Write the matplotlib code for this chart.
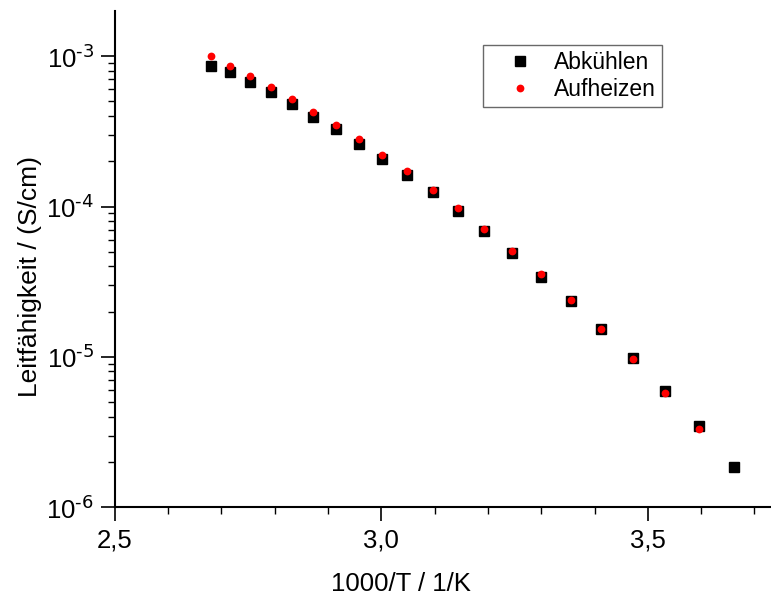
import math
import matplotlib
matplotlib.use('Agg')
import matplotlib.pyplot as plt
from matplotlib.ticker import MultipleLocator, LogLocator, FuncFormatter, NullFormatter

# Daten
inv_T = [2.680, 2.716, 2.754, 2.793, 2.832, 2.872, 2.915, 2.958, 3.002, 3.049,
         3.096, 3.144, 3.193, 3.246, 3.299, 3.355, 3.412, 3.472, 3.533, 3.596, 3.662]
sigma_cool = [8.59e-4, 7.80e-4, 6.76e-4, 5.74e-4, 4.80e-4, 3.95e-4, 3.26e-4, 2.61e-4,
              2.06e-4, 1.62e-4, 1.24e-4, 9.33e-5, 6.84e-5, 4.89e-5, 3.41e-5, 2.34e-5,
              1.54e-5, 9.79e-6, 5.93e-6, 3.49e-6, 1.86e-6]
sigma_heat = [1.006e-3, 8.59e-4, 7.38e-4, 6.21e-4, 5.19e-4, 4.27e-4, 3.48e-4, 2.80e-4,
              2.20e-4, 1.71e-4, 1.29e-4, 9.73e-5, 7.12e-5, 5.09e-5, 3.57e-5, 2.40e-5,
              1.54e-5, 9.64e-6, 5.78e-6, 3.32e-6]

plt.rcParams['font.family'] = ['Liberation Sans', 'DejaVu Sans']
plt.rcParams['mathtext.default'] = 'regular'

fig = plt.figure(figsize=(7.71, 5.95), dpi=100)
W, H = 771, 595
x0, y0, y1 = 114.8, 507.3, 11
ax = fig.add_axes([x0 / W, (H - y0) / H, (W - x0) / W, (y0 - y1) / H])

ax.plot(inv_T, sigma_cool, 's', color='black', markersize=7.2, linestyle='none', label='Abkühlen')
ax.plot(inv_T[:len(sigma_heat)], sigma_heat, 'o', color='red', markersize=5.6,
        markeredgewidth=0, linestyle='none', label='Aufheizen')

ax.set_yscale('log')
ax.set_xlim(2.5, 3.731)
ax.set_ylim(1e-6, 10 ** -2.70)

ax.spines['top'].set_visible(False)
ax.spines['right'].set_visible(False)
for s in ['left', 'bottom']:
    ax.spines[s].set_linewidth(1.5)


def log_label(v, pos):
    e = int(round(math.log10(v)))
    return r'$10^{\text{%d}}$' % e


ax.xaxis.set_major_locator(MultipleLocator(0.5))
ax.xaxis.set_minor_locator(MultipleLocator(0.1))
ax.xaxis.set_major_formatter(FuncFormatter(lambda v, p: f'{v:.1f}'.replace('.', ',')))
ax.yaxis.set_major_locator(LogLocator(base=10))
ax.yaxis.set_minor_locator(LogLocator(base=10, subs=range(2, 10)))
ax.yaxis.set_minor_formatter(NullFormatter())
ax.yaxis.set_major_formatter(FuncFormatter(log_label))

ax.tick_params(which='major', direction='out', length=10, width=1.2, labelsize=18.5, pad=5)
ax.tick_params(which='minor', direction='out', length=5, width=1.0)

ax.set_xlabel('1000/T / 1/K', fontsize=18.5)
ax.set_ylabel('Leitfähigkeit / (S/cm)', fontsize=19)
ax.xaxis.set_label_coords(0.436, -0.13)
ax.yaxis.set_label_coords(-0.111, 0.465)

leg = ax.legend(loc='upper left', bbox_to_anchor=(483 / W, 1 - 45 / H),
                bbox_transform=fig.transFigure, borderaxespad=0, fontsize=16.5,
                frameon=True, fancybox=False, edgecolor='#444444',
                handlelength=2.7, handletextpad=0.15, borderpad=0.25,
                labelspacing=0.2)
leg.get_frame().set_linewidth(1.0)

fig.savefig('out.png', dpi=100)
